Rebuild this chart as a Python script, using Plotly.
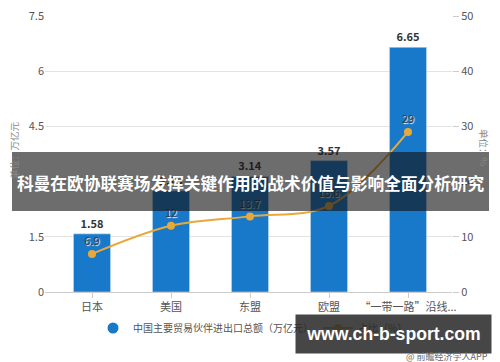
import plotly.graph_objects as go

categories = ["日本", "美国", "东盟", "欧盟", "“一带一路”沿线..."]
trade_total = [1.58, 2.75, 3.14, 3.57, 6.65]
share_pct = [6.9, 12, 13.7, 15.6, 29]
left_ticks = [0, 1.5, 3, 4.5, 6, 7.5]
right_ticks = [0, 10, 20, 30, 40, 50]

BLUE = "#1878c9"
ORANGE = "#e8a93a"
FONT = "Noto Sans CJK SC, Noto Sans, sans-serif"

# page is rendered with an 8px body margin, so figure coords = page coords - 8
FW, FH = 492, 354
L, T, W, H = 37, 7, 407, 277
YTOP = 7.5 * H / 276

fig = go.Figure()
fig.add_trace(go.Bar(
    x=categories, y=trade_total, marker_color=BLUE, width=0.47,
    text=[f"{v:.2f}" for v in trade_total], textposition="outside",
    textfont=dict(size=11, color="#333333", family=FONT, weight="bold"),
    cliponaxis=False, showlegend=False, yaxis="y",
))
fig.add_trace(go.Scatter(
    x=[None], y=[None], mode="markers", marker=dict(color=BLUE, size=11),
    name="中国主要贸易伙伴进出口总额（万亿元）", yaxis="y",
))
fig.add_trace(go.Scatter(
    x=categories, y=share_pct, mode="lines+markers+text", yaxis="y2",
    line=dict(color=ORANGE, width=2, shape="spline"),
    marker=dict(color=ORANGE, size=8),
    text=[f"{v:g}" for v in share_pct], textposition="top center",
    textfont=dict(size=11, color="#3a3a3a", family=FONT, shadow="1px 1px 1px white"),
    name="占比（%）", cliponaxis=False,
))

fig.update_layout(
    width=FW, height=FH,
    margin=dict(l=L, r=FW - L - W, t=T, b=FH - T - H, autoexpand=False),
    paper_bgcolor="white", plot_bgcolor="white",
    font=dict(family=FONT, size=11, color="#555555"),
    xaxis=dict(range=[-0.595, 4.557], showline=True, linecolor="#cccccc", ticks="outside",
               ticklen=5, tickcolor="#cccccc", tickfont=dict(size=11, color="#555555"),
               automargin=False),
    yaxis=dict(range=[0, YTOP], tickvals=left_ticks, ticktext=[f"{v:g}" for v in left_ticks],
               showgrid=True, gridcolor="#e3e3e3", zeroline=False, automargin=False,
               ticklabeloverflow="allow"),
    yaxis2=dict(range=[0, 50 * H / 276], tickvals=right_ticks, overlaying="y", side="right",
                showgrid=False, zeroline=False, ticks="outside", ticklen=6, tickcolor="#cccccc",
                automargin=False, ticklabeloverflow="allow"),
    legend=dict(orientation="h", x=85 / FW, y=1 - 320 / FH, xref="container", yref="container",
                xanchor="left", yanchor="middle", bgcolor="rgba(0,0,0,0)",
                font=dict(size=10, color="#555555")),
)

def px(x):
    return (x - L) / W
def py(y):
    return (T + H - y) / H

# axis titles
fig.add_annotation(xref="paper", yref="paper", x=px(6), y=py(142), showarrow=False, textangle=-90,
                   xanchor="center", yanchor="middle",
                   text="单位：万亿元", font=dict(size=9.5, color="#888888", family=FONT))
fig.add_annotation(xref="paper", yref="paper", x=px(476), y=py(140), showarrow=False, textangle=90,
                   xanchor="center", yanchor="middle",
                   text="单位：%", font=dict(size=9.5, color="#888888", family=FONT))

# title banner
fig.add_shape(type="rect", xref="paper", yref="paper", x0=px(4), x1=px(481), y0=py(203), y1=py(144),
              fillcolor="rgba(20,20,20,0.62)", line=dict(width=0), layer="above")
fig.add_annotation(xref="paper", yref="paper", x=px(242.5), y=py(175), showarrow=False,
                   xanchor="center", yanchor="middle",
                   text="科曼在欧协联赛场发挥关键作用的战术价值与影响全面分析研究",
                   font=dict(size=16.7, color="white", family=FONT, weight="bold"))
# site watermark box
fig.add_annotation(xref="paper", yref="paper", x=px(385.5), y=py(326), showarrow=False,
                   xanchor="center", yanchor="middle",
                   text="www.ch-b-sport.com", width=187, height=30,
                   bgcolor="rgba(40,40,40,0.86)", borderpad=4,
                   font=dict(size=17.6, color="white", family="Liberation Sans, Arial, sans-serif",
                             weight="bold"))
fig.add_annotation(xref="paper", yref="paper", x=px(482), y=py(348), xanchor="right",
                   yanchor="middle", showarrow=False,
                   text="@ 前瞻经济学人APP", font=dict(size=9, color="#666666", family=FONT))

fig.write_html("out.html")
